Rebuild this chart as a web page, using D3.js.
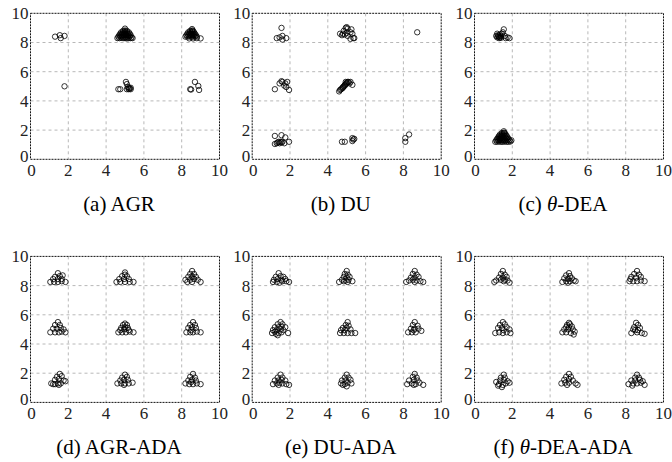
<!DOCTYPE html>
<html>
<head>
<meta charset="utf-8">
<script src="https://cdn.jsdelivr.net/npm/d3@7"></script>
<style>
  html, body { margin: 0; padding: 0; background: #fff; }
  svg { display: block; }
  .tick-label { font-family: "Liberation Serif", "DejaVu Serif", serif; font-size: 17px; fill: #222; }
  .caption { font-family: "Liberation Serif", "DejaVu Serif", serif; font-size: 21px; fill: #000; }
</style>
</head>
<body>
<div id="chart"></div>
<script>
// Данные: точки [x, y] для каждой подпанели
const tickValues = [0, 2, 4, 6, 8, 10];
const panelLabels = ['(a) AGR', '(b) DU', '(c) θ-DEA', '(d) AGR-ADA', '(e) DU-ADA', '(f) θ-DEA-ADA'];

const agrPoints = [
  [1.3, 8.4], [1.55, 8.5], [1.6, 8.3], [1.8, 8.45],
  [1.8, 5.0],
  // плотный кластер около (5, 8.5)
  [4.6, 8.3], [4.7, 8.3], [4.8, 8.32], [4.9, 8.3], [5.0, 8.3], [5.1, 8.28], [5.2, 8.3], [5.3, 8.3], [5.4, 8.3],
  [4.65, 8.4], [4.75, 8.42], [4.85, 8.4], [4.95, 8.4], [5.05, 8.38], [5.15, 8.4], [5.25, 8.42], [5.35, 8.35],
  [4.7, 8.5], [4.8, 8.5], [4.9, 8.52], [5.0, 8.5], [5.1, 8.5], [5.2, 8.48], [5.3, 8.5],
  [4.75, 8.6], [4.85, 8.6], [4.95, 8.62], [5.05, 8.6], [5.15, 8.6], [5.25, 8.6],
  [4.8, 8.7], [4.9, 8.7], [5.0, 8.72], [5.1, 8.7], [5.2, 8.7],
  [4.9, 8.8], [5.0, 8.82], [5.1, 8.8], [5.0, 8.95],
  // плотный кластер около (8.6, 8.6)
  [8.2, 8.4], [8.3, 8.4], [8.4, 8.42], [8.5, 8.4], [8.6, 8.4], [8.7, 8.42], [8.8, 8.4],
  [8.25, 8.5], [8.35, 8.5], [8.45, 8.52], [8.55, 8.5], [8.65, 8.5], [8.75, 8.5],
  [8.3, 8.6], [8.4, 8.6], [8.5, 8.62], [8.6, 8.6], [8.7, 8.6],
  [8.35, 8.7], [8.45, 8.7], [8.55, 8.72], [8.65, 8.7],
  [8.45, 8.8], [8.55, 8.82], [8.6, 8.8], [8.55, 8.92],
  [8.4, 8.28], [8.6, 8.28], [8.8, 8.3], [9.0, 8.28],
  // средний ряд
  [4.65, 4.8], [4.75, 4.8], [5.05, 5.3], [5.1, 5.15], [5.15, 4.95], [5.2, 4.8], [5.3, 4.8],
  [5.25, 4.85], [5.1, 4.8], [5.3, 4.9], [5.2, 4.9],
  [8.45, 4.8], [8.5, 4.78], [8.7, 5.3], [8.88, 5.02], [8.92, 4.75]
];

const duPoints = [
  [1.55, 9.0], [1.3, 8.3], [1.45, 8.35], [1.6, 8.45], [1.6, 8.2], [1.8, 8.3],
  [4.65, 8.6], [4.75, 8.5], [4.85, 8.8], [4.95, 9.0], [5.0, 9.05], [5.05, 8.95], [4.9, 8.55], [5.05, 8.45],
  [5.2, 8.7], [5.25, 8.9], [5.3, 8.6], [5.35, 8.3], [5.2, 8.25], [5.4, 8.3], [5.0, 8.65], [4.8, 8.6],
  [8.73, 8.7],
  [1.2, 4.8], [1.45, 5.2], [1.55, 5.35], [1.6, 5.3], [1.75, 5.2], [1.85, 5.3], [1.8, 4.95], [1.95, 4.75], [1.7, 5.05],
  [4.6, 4.65], [4.65, 4.75], [4.7, 4.8], [4.75, 4.85], [4.8, 4.95], [4.85, 5.0], [4.9, 5.1], [4.95, 5.15],
  [5.0, 5.2], [5.05, 5.3], [5.1, 5.3], [5.0, 5.25], [4.9, 5.05], [4.8, 4.9], [5.15, 5.2], [5.3, 5.1],
  [4.95, 5.3], [5.2, 5.3],
  [1.2, 1.6], [1.55, 1.65], [1.75, 1.5], [1.2, 1.05], [1.35, 1.15], [1.4, 1.2], [1.5, 1.2], [1.55, 1.15],
  [1.45, 1.1], [1.6, 1.2], [1.7, 1.1], [1.95, 1.2], [1.3, 1.1],
  [4.75, 1.2], [4.9, 1.2], [5.3, 1.45], [5.35, 1.35], [5.3, 1.25], [5.4, 1.4],
  [8.1, 1.2], [8.1, 1.45], [8.3, 1.7]
];

const thetaDeaPoints = [
  [1.2, 8.35], [1.25, 8.5], [1.3, 8.4], [1.35, 8.55], [1.2, 8.6], [1.4, 8.45], [1.3, 8.3], [1.45, 8.6],
  [1.15, 8.45], [1.35, 8.35], [1.25, 8.42], [1.4, 8.32],
  [1.55, 8.9], [1.5, 8.7], [1.6, 8.45], [1.75, 8.35], [1.85, 8.3], [1.65, 8.3],
  // плотный кластер около (1.5, 1.5)
  [1.1, 1.2], [1.2, 1.2], [1.3, 1.22], [1.4, 1.2], [1.5, 1.2], [1.6, 1.22], [1.7, 1.2], [1.8, 1.2], [1.9, 1.22],
  [1.15, 1.3], [1.25, 1.3], [1.35, 1.32], [1.45, 1.3], [1.55, 1.3], [1.65, 1.3], [1.75, 1.32], [1.85, 1.3], [1.95, 1.3],
  [1.2, 1.4], [1.3, 1.4], [1.4, 1.42], [1.5, 1.4], [1.6, 1.4], [1.7, 1.42], [1.8, 1.4],
  [1.25, 1.5], [1.35, 1.5], [1.45, 1.52], [1.55, 1.5], [1.65, 1.5], [1.75, 1.5],
  [1.3, 1.6], [1.4, 1.6], [1.5, 1.62], [1.6, 1.6], [1.7, 1.6],
  [1.35, 1.7], [1.45, 1.7], [1.55, 1.72], [1.65, 1.7],
  [1.45, 1.8], [1.55, 1.82], [1.6, 1.8], [1.55, 1.92]
];

const agrAdaPoints = [
  [1.45, 8.85], [1.3, 8.6], [1.55, 8.65], [1.7, 8.7], [1.2, 8.45], [1.45, 8.45], [1.65, 8.45],
  [1.05, 8.25], [1.25, 8.25], [1.45, 8.25], [1.65, 8.3], [1.85, 8.25],
  [5.0, 8.9], [4.85, 8.65], [5.1, 8.65], [5.0, 8.75], [4.7, 8.45], [4.95, 8.45], [5.2, 8.45],
  [4.55, 8.25], [4.75, 8.25], [5.0, 8.25], [5.25, 8.25], [5.45, 8.25],
  [8.55, 9.0], [8.45, 8.8], [8.65, 8.8], [8.35, 8.6], [8.55, 8.6], [8.75, 8.6], [8.2, 8.4],
  [8.45, 8.4], [8.65, 8.45], [8.85, 8.4], [8.3, 8.25], [8.55, 8.25], [9.0, 8.25],
  [1.45, 5.5], [1.3, 5.3], [1.55, 5.3], [1.2, 5.05], [1.4, 5.05], [1.6, 5.1], [1.75, 5.0],
  [1.05, 4.8], [1.3, 4.8], [1.5, 4.8], [1.65, 4.85], [1.85, 4.8],
  [5.0, 5.4], [4.9, 5.3], [5.1, 5.3], [4.8, 5.1], [5.0, 5.15], [5.15, 5.1], [4.75, 4.95],
  [4.95, 5.0], [5.2, 4.95], [4.65, 4.8], [4.85, 4.8], [5.05, 4.8], [5.25, 4.85], [5.45, 4.8],
  [8.6, 5.5], [8.45, 5.3], [8.7, 5.3], [8.35, 5.1], [8.55, 5.15], [8.75, 5.1], [8.25, 4.8],
  [8.45, 4.8], [8.6, 4.8], [8.8, 4.85], [9.0, 4.8], [8.5, 4.95],
  [1.55, 1.95], [1.4, 1.75], [1.65, 1.8], [1.3, 1.55], [1.5, 1.6], [1.75, 1.5], [1.1, 1.3],
  [1.3, 1.25], [1.45, 1.3], [1.6, 1.3], [1.85, 1.45], [1.5, 1.2], [1.2, 1.25],
  [5.0, 1.9], [4.85, 1.7], [5.1, 1.75], [4.75, 1.5], [4.95, 1.55], [5.15, 1.55], [4.6, 1.3],
  [4.8, 1.3], [5.0, 1.3], [5.2, 1.3], [5.4, 1.35], [4.95, 1.2],
  [8.6, 1.95], [8.45, 1.75], [8.7, 1.7], [8.35, 1.5], [8.55, 1.55], [8.75, 1.5], [8.2, 1.3],
  [8.4, 1.25], [8.6, 1.25], [8.8, 1.3], [9.0, 1.25], [8.5, 1.4]
];

const duAdaPoints = [
  [1.4, 8.85], [1.25, 8.6], [1.5, 8.65], [1.65, 8.6], [1.15, 8.4], [1.35, 8.45], [1.55, 8.4],
  [1.75, 8.45], [1.1, 8.25], [1.3, 8.25], [1.45, 8.2], [1.6, 8.3], [1.8, 8.3], [1.95, 8.25],
  [5.0, 9.0], [4.9, 8.8], [5.05, 8.75], [4.85, 8.6], [5.0, 8.55], [5.15, 8.6], [4.75, 8.4],
  [4.95, 8.35], [5.1, 8.4], [4.6, 8.25], [4.85, 8.3], [5.05, 8.25], [5.3, 8.3],
  [8.6, 9.0], [8.5, 8.8], [8.7, 8.75], [8.4, 8.55], [8.6, 8.55], [8.8, 8.6], [8.3, 8.35],
  [8.5, 8.4], [8.7, 8.35], [8.9, 8.3], [8.15, 8.25], [8.6, 8.25], [9.05, 8.25],
  [1.5, 5.5], [1.35, 5.35], [1.6, 5.35], [1.2, 5.15], [1.4, 5.15], [1.55, 5.2], [1.75, 5.15],
  [1.1, 4.95], [1.3, 4.95], [1.5, 5.0], [1.65, 4.95], [1.05, 4.75], [1.25, 4.7], [1.4, 4.75],
  [1.55, 4.8], [1.35, 4.6], [1.9, 4.75], [1.2, 4.85],
  [5.05, 5.5], [4.95, 5.3], [5.1, 5.25], [4.8, 5.1], [5.0, 5.1], [5.2, 5.0], [4.7, 4.95],
  [4.9, 4.95], [4.65, 4.75], [4.85, 4.75], [5.05, 4.75], [5.25, 4.75], [5.45, 4.75],
  [8.6, 5.5], [8.5, 5.3], [8.75, 5.25], [8.4, 5.05], [8.6, 5.05], [8.8, 5.05], [8.25, 4.8],
  [8.45, 4.8], [8.65, 4.8], [8.95, 4.9], [8.55, 4.95],
  [1.5, 1.9], [1.35, 1.7], [1.6, 1.7], [1.2, 1.5], [1.4, 1.5], [1.55, 1.55], [1.75, 1.5],
  [1.1, 1.25], [1.3, 1.3], [1.45, 1.35], [1.6, 1.3], [1.8, 1.25], [1.95, 1.2], [1.4, 1.2],
  [5.0, 1.9], [4.9, 1.7], [5.1, 1.7], [4.75, 1.5], [4.95, 1.5], [5.2, 1.55], [4.7, 1.3],
  [4.9, 1.25], [5.05, 1.35], [5.25, 1.3], [5.0, 1.1], [4.8, 1.2],
  [8.6, 1.95], [8.5, 1.75], [8.7, 1.7], [8.3, 1.5], [8.55, 1.55], [8.75, 1.5], [8.2, 1.25],
  [8.45, 1.3], [8.65, 1.25], [8.85, 1.35], [9.05, 1.2], [8.55, 1.2]
];

const thetaDeaAdaPoints = [
  [1.5, 9.0], [1.4, 8.8], [1.6, 8.75], [1.3, 8.55], [1.5, 8.55], [1.7, 8.6], [1.15, 8.35],
  [1.4, 8.4], [1.6, 8.4], [1.75, 8.35], [1.05, 8.25], [1.85, 8.2], [1.55, 8.3],
  [5.0, 8.85], [4.85, 8.7], [5.05, 8.65], [4.75, 8.5], [4.95, 8.45], [5.15, 8.5], [4.65, 8.25],
  [4.85, 8.3], [5.05, 8.3], [5.25, 8.35], [5.35, 8.3], [4.95, 8.2],
  [8.6, 9.0], [8.45, 8.8], [8.7, 8.75], [8.3, 8.6], [8.55, 8.55], [8.8, 8.6], [8.2, 8.3],
  [8.4, 8.3], [8.6, 8.3], [8.8, 8.35], [9.0, 8.3], [8.25, 8.45],
  [1.5, 5.5], [1.35, 5.3], [1.6, 5.35], [1.25, 5.1], [1.45, 5.1], [1.7, 5.15], [1.85, 5.0],
  [1.1, 4.75], [1.3, 4.8], [1.5, 4.75], [1.7, 4.8], [1.9, 4.75], [1.55, 4.95],
  [5.0, 5.45], [4.9, 5.3], [5.05, 5.35], [4.85, 5.15], [5.0, 5.15], [5.15, 5.2], [4.75, 5.0],
  [4.95, 5.0], [5.2, 5.0], [4.65, 4.8], [4.85, 4.8], [5.1, 4.75], [5.3, 4.85], [5.25, 4.65],
  [8.55, 5.45], [8.65, 5.3], [8.45, 5.15], [8.75, 5.1], [8.5, 4.95], [8.65, 4.95], [8.3, 4.75],
  [8.6, 4.8], [8.85, 4.75], [9.0, 4.7], [8.4, 5.0],
  [1.55, 1.9], [1.4, 1.7], [1.6, 1.7], [1.15, 1.4], [1.35, 1.5], [1.55, 1.55], [1.75, 1.45],
  [1.3, 1.25], [1.5, 1.2], [1.65, 1.3], [1.85, 1.35], [1.45, 1.05], [1.25, 1.15],
  [5.0, 1.95], [4.85, 1.75], [5.1, 1.75], [4.75, 1.55], [5.0, 1.6], [5.2, 1.5], [4.6, 1.3],
  [4.8, 1.35], [5.0, 1.35], [5.35, 1.3], [5.45, 1.2], [4.9, 1.2],
  [8.6, 1.9], [8.5, 1.7], [8.7, 1.7], [8.3, 1.5], [8.5, 1.5], [8.75, 1.55], [8.9, 1.45],
  [8.15, 1.25], [8.4, 1.3], [8.6, 1.3], [8.8, 1.35], [9.0, 1.2], [8.35, 1.15]
];

const panelPoints = [agrPoints, duPoints, thetaDeaPoints, agrAdaPoints, duAdaPoints, thetaDeaAdaPoints];

// Раскладка
const W = 672, H = 462;
const colX = [30.5, 252.2, 474.5];
const rowY = [13.3, 256.4];
const plotW = 189, plotH = 146;

const svg = d3.select('#chart').append('svg')
  .attr('width', W)
  .attr('height', H);

panelPoints.forEach((pts, i) => {
  const x0 = colX[i % 3];
  const y0 = rowY[Math.floor(i / 3)];

  const xScale = d3.scaleLinear().domain([0, 10]).range([x0, x0 + plotW]);
  const yScale = d3.scaleLinear().domain([0, 10]).range([y0 + plotH, y0]);

  const g = svg.append('g').attr('class', 'panel');

  // Сетка
  const inner = tickValues.filter(v => v > 0 && v < 10);
  g.selectAll('.vgrid').data(inner).enter().append('line')
    .attr('x1', d => xScale(d)).attr('x2', d => xScale(d))
    .attr('y1', y0).attr('y2', y0 + plotH)
    .attr('stroke', '#b8b8b8').attr('stroke-width', 1)
    .attr('stroke-dasharray', '3,3');
  g.selectAll('.hgrid').data(inner).enter().append('line')
    .attr('x1', x0).attr('x2', x0 + plotW)
    .attr('y1', d => yScale(d)).attr('y2', d => yScale(d))
    .attr('stroke', '#b8b8b8').attr('stroke-width', 1)
    .attr('stroke-dasharray', '3,3');

  // Рамка
  g.append('rect')
    .attr('x', x0).attr('y', y0)
    .attr('width', plotW).attr('height', plotH)
    .attr('fill', 'none')
    .attr('stroke', '#111').attr('stroke-width', 1)
    .attr('stroke-dasharray', '2,1');

  // Подписи осей (ноль на оси Y чуть выше, чтобы не наезжал на ноль оси X)
  g.selectAll('.xlab').data(tickValues).enter().append('text')
    .attr('class', 'tick-label')
    .attr('x', d => xScale(d) + (d === 0 ? 1 : 0))
    .attr('y', y0 + plotH + 17)
    .attr('text-anchor', 'middle')
    .text(d => d);
  g.selectAll('.ylab').data(tickValues).enter().append('text')
    .attr('class', 'tick-label')
    .attr('x', x0 - 2)
    .attr('y', d => yScale(d) - (d === 0 ? 3 : 0))
    .attr('dy', '0.35em')
    .attr('text-anchor', 'end')
    .text(d => d);

  // Точки
  g.selectAll('circle').data(pts).enter().append('circle')
    .attr('cx', d => xScale(d[0]))
    .attr('cy', d => yScale(d[1]))
    .attr('r', 2.7)
    .attr('fill', 'none')
    .attr('stroke', '#000')
    .attr('stroke-width', 0.8);

  // Подпись панели (θ курсивом)
  const cap = g.append('text')
    .attr('class', 'caption')
    .attr('x', x0 + plotW / 2 - 6)
    .attr('y', y0 + plotH + 52)
    .attr('text-anchor', 'middle');
  const parts = panelLabels[i].split('θ');
  parts.forEach((p, k) => {
    if (k > 0) cap.append('tspan').attr('font-style', 'italic').text('θ');
    cap.append('tspan').text(p);
  });
});
</script>
</body>
</html>
